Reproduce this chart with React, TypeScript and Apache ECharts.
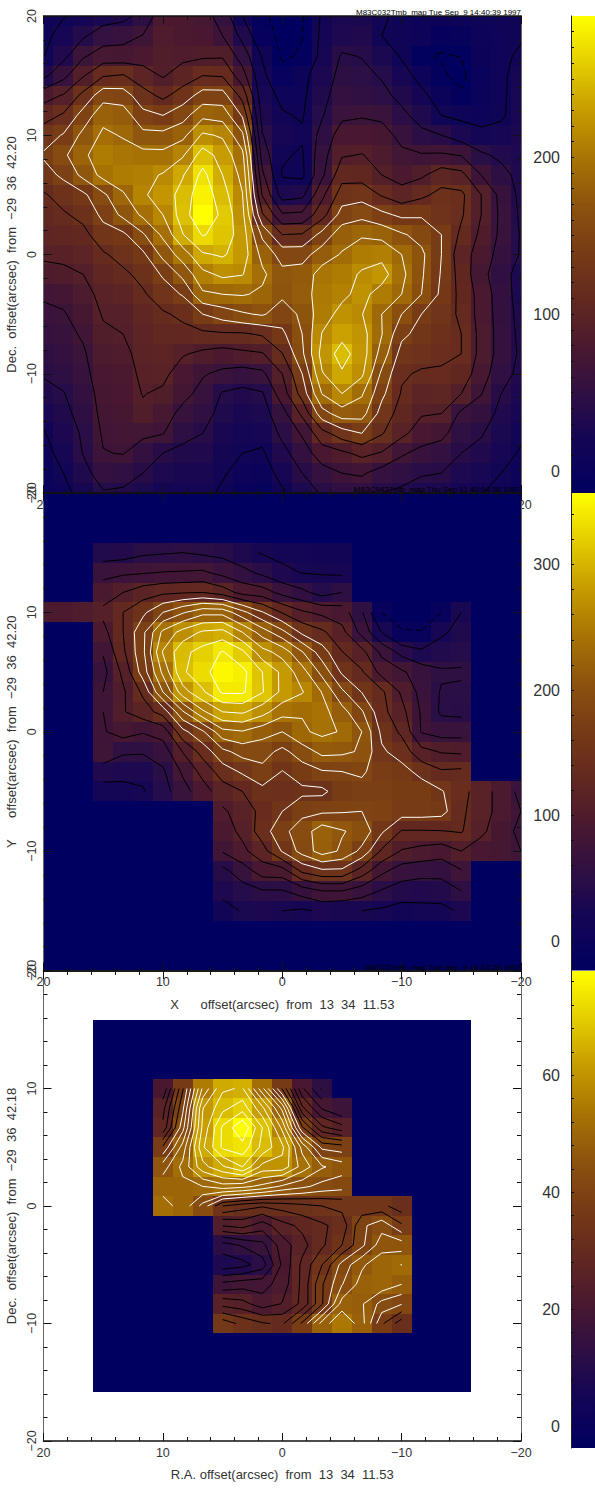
import React, { useEffect, useRef } from "react";
import * as echarts from "echarts";

const _ = null;
const nodeStep = 5 / 3;
const nodes25 = Array.from({ length: 25 }, (_v, i) => 20 - i * nodeStep);
const nodes19 = Array.from({ length: 19 }, (_v, i) => 15 - i * nodeStep);

// Each inner list is one column (left to right), values run from the top row down.
const co32Columns = [
  [13,10,14,34,80,105,128,143,130,112,108,102,94,82,68,60,55,48,42,33,22,13,8,5,2],
  [14,22,33,58,92,118,142,160,145,125,112,104,95,85,72,63,58,52,47,39,34,28,22,15,8],
  [20,37,62,88,122,150,172,185,172,135,122,108,100,90,82,75,68,62,58,52,48,43,41,32,24],
  [28,53,76,113,155,182,195,205,198,160,146,130,112,104,97,92,86,82,78,75,72,68,64,52,38],
  [33,57,75,117,152,178,188,200,205,187,171,135,124,110,100,93,90,84,80,78,75,72,66,50,36],
  [48,66,80,100,125,147,172,198,208,212,195,162,135,122,112,104,100,98,95,91,86,70,52,40,30],
  [80,84,87,88,109,140,172,197,217,225,215,195,172,143,128,112,106,100,96,86,76,66,40,30,20],
  [80,80,84,101,127,155,183,212,238,250,252,239,202,172,142,120,108,92,78,72,58,47,34,26,20],
  [75,78,86,115,150,184,219,252,272,282,290,267,237,208,186,140,110,85,67,58,50,40,33,26,20],
  [55,65,87,113,150,180,212,230,240,250,258,255,243,220,190,152,112,80,60,38,32,26,21,17,12],
  [15,33,53,75,106,137,170,197,208,216,222,228,228,216,192,162,112,85,55,33,26,20,15,8,0],
  [-8,-5,13,20,25,31,41,52,70,88,118,160,182,195,186,168,118,88,60,38,30,22,12,5,-2],
  [-14,-13,-13,-4,10,17,22,18,13,30,68,115,155,172,170,152,135,114,90,78,56,45,33,22,12],
  [-12,-10.5,-8,8,10,13,18,12,10,34,70,117,155,176,178,170,165,160,140,125,95,68,52,40,30],
  [18,20,22,28,33,38,48,56,60,84,105,148,178,200,203,205,216,224,213,191,155,106,78,55,42],
  [28,30,42,47,52,60,77,88,106,127,150,180,192,205,210,222,233,250,237,215,178,128,85,65,50],
  [28,33,39,46,50,63,78,91,105,130,158,187,205,218,222,216,224,227,220,193,175,140,96,68,50],
  [18,15,27,38,46,60,75,82,90,113,146,183,208,225,205,190,191,180,160,146,130,117,88,55,40],
  [10,12,13,23,34,45,58,70,80,100,135,168,190,196,190,165,146,130,118,113,105,96,68,50,35],
  [8,8,-8.6,8,20,32,45,67,86,110,137,157,170,168,165,140,131,124,112,100,92,78,58,42,30],
  [6,-5,-11,-8,5,15,40,68,103,122,126,140,140,138,135,128,122,118,113,103,90,72,52,40,28],
  [8,-3,-9.5,-14,-8,10,28,64,97,120,118,110,100,105,108,110,115,115,105,90,60,50,40,30,20],
  [10,8,6,2,5,8,20,44,65,90,90,85,80,73,80,80,82,82,76,66,54,42,33,25,16],
  [12,11,11,11,11,12,22,35,48,58,60,60,55,50,52,54,55,55,50,40,33,27,22,15,9],
  [12,13,18,24,25,26,28,30,32,34,36,38,38,30,30,32,34,36,33,28,22,18,13,8,4],
];

const co43Columns = [
  [_,_,_,_,_,_,95,_,_,_,_,_,_,_,_,_,_,_,_,_,_,_,_,_,_],
  [_,_,_,_,_,_,95,_,_,_,_,_,_,_,_,_,_,_,_,_,_,_,_,_,_],
  [_,_,_,_,_,_,100,_,_,_,_,_,_,_,_,_,_,_,_,_,_,_,_,_,_],
  [_,_,_,38,70,92,110,96,80,70,78,78,76,77,35,18,_,_,_,_,_,_,_,_,_],
  [_,_,_,40,74,104,130,130,125,110,100,102,88,56,32,20,_,_,_,_,_,_,_,_,_],
  [_,_,_,48,76,118,150,176,176,168,135,118,80,55,32,24,_,_,_,_,_,_,_,_,_],
  [_,_,_,50,79,125,182,240,262,240,208,140,88,65,48,42,_,_,_,_,_,_,_,_,_],
  [_,_,_,52,80,128,205,270,305,308,275,205,148,105,82,68,_,_,_,_,_,_,_,_,_],
  [_,_,_,48,82,130,226,290,322,330,308,255,178,140,112,93,_,_,_,_,_,_,_,_,_],
  [_,_,_,45,70,118,225,295,340,352,342,286,226,175,143,117,100,92,80,45,33,16,_,_,_],
  [_,_,_,33,60,95,190,260,318,345,342,290,232,192,160,130,115,110,98,65,42,28,_,_,_],
  [_,_,_,24,46,90,158,222,270,312,314,270,218,192,175,148,138,143,120,90,50,30,_,_,_],
  [_,_,_,18,33,70,128,190,250,280,280,243,208,175,155,145,156,175,158,92,50,26,_,_,_],
  [_,_,_,17,25,58,108,150,210,245,262,236,230,195,170,150,175,195,192,135,64,22,_,_,_],
  [_,_,_,14,24,42,98,135,168,200,233,243,240,215,180,150,178,222,220,150,78,30,_,_,_],
  [_,_,_,15,22,52,91,112,131,152,187,218,232,213,182,170,180,210,204,150,78,26,_,_,_],
  [_,_,_,_,_,_,55,70,112,133,155,185,208,205,185,175,182,200,175,118,65,26,_,_,_],
  [_,_,_,_,_,_,-10,25,72,95,135,138,150,160,172,175,178,160,126,84,50,22,_,_,_],
  [_,_,_,_,_,_,-20,-8,44,82,100,112,125,145,165,170,168,128,102,65,40,16,_,_,_],
  [_,_,_,_,_,_,-20,-9,32,65,70,75,76,112,148,170,168,128,95,62,35,20,_,_,_],
  [_,_,_,_,_,_,-10,22,38,55,50,48,68,102,133,158,165,129,90,60,40,18,_,_,_],
  [_,_,_,_,_,_,26,34,42,55,48,46,68,100,135,140,135,132,104,76,52,30,_,_,_],
  [_,_,_,_,_,_,_,_,_,_,_,_,_,_,_,115,115,110,90,_,_,_,_,_,_],
  [_,_,_,_,_,_,_,_,_,_,_,_,_,_,_,95,95,88,85,_,_,_,_,_,_],
  [_,_,_,_,_,_,_,_,_,_,_,_,_,_,_,70,78,72,78,_,_,_,_,_,_],
];

const co0Columns = [
  [_,_,_,_,_,_,_,_,_,_,_,_,_,_,_,_,_,_,_],
  [_,_,_,_,_,_,_,_,_,_,_,_,_,_,_,_,_,_,_],
  [_,_,_,_,_,_,_,_,_,_,_,_,_,_,_,_,_,_,_],
  [_,_,_,21,26,28,38,46,50,52,_,_,_,_,_,_,_,_,_],
  [_,_,_,37,40,43,49,52,50,50,_,_,_,_,_,_,_,_,_],
  [_,_,_,55,61,62,64,60,51,43,_,_,_,_,_,_,_,_,_],
  [_,_,_,64,67,72,72,64,53,34,24,12,8,18,26,36,_,_,_],
  [_,_,_,65,70,77.8,73.5,68,52,32,25,14,9,19,25,33,_,_,_],
  [_,_,_,52,62,68,67,60,50,31,22,16,12,19,22,31,_,_,_],
  [_,_,_,37,50,57,62,60,47,32,26,22,21,22,24,30,_,_,_],
  [_,_,_,21,28,38,50,53,45,33,28,26,28,28,28,38,_,_,_],
  [_,_,_,13,20,28,40,48,43,34,30,30,34,37,37,49,_,_,_],
  [_,_,_,_,17,25,39,46,42,35,32,34,42,44,49,54.45,_,_,_],
  [_,_,_,_,_,_,_,_,_,35,40,40,47,49,48,49,_,_,_],
  [_,_,_,_,_,_,_,_,_,35,43,46,50,50,43,38,_,_,_],
  [_,_,_,_,_,_,_,_,_,32,38,46,51.05,47.6,41,32,_,_,_],
  [_,_,_,_,_,_,_,_,_,_,_,_,_,_,_,_,_,_,_],
  [_,_,_,_,_,_,_,_,_,_,_,_,_,_,_,_,_,_,_],
  [_,_,_,_,_,_,_,_,_,_,_,_,_,_,_,_,_,_,_],
];

const co32Levels = [-10,15,40,65,90,115,140,165,190,215,240,265];
const co43Levels = [-10,26,52,78,104,130,156,182,208,234,260,286,312,338];
const co0Levels = [3.4,6.8,10.2,13.6,17,20.4,23.8,27.2,30.6,34,37.4,40.8,44.2,47.6,51,54.4,57.8,61.2,64.6,68,71.4,74.8];

const spatialTicks = [-20, -10, 0, 10, 20];
const co32BarLabels = [0, 100, 200];
const co43BarLabels = [0, 100, 200, 300];
const co0BarLabels = [0, 20, 40, 60];
const co32BarTicks = [-10,0,10,20,30,40,50,60,70,80,90,100,110,120,130,140,150,160,170,180,190,200,210,220,230,240,250,260,270,280];
const co43BarTicks = [-20,0,20,40,60,80,100,120,140,160,180,200,220,240,260,280,300,320,340];
const co0BarTicks = [0,4,8,12,16,20,24,28,32,36,40,44,48,52,56,60,64,68,72,76];

const colorStops: [number, number[]][] = [
  [0, [0, 0, 96]],
  [0.12, [22, 6, 84]],
  [0.2, [45, 15, 68]],
  [0.3, [72, 24, 48]],
  [0.4, [98, 40, 32]],
  [0.5, [118, 58, 22]],
  [0.6, [140, 82, 14]],
  [0.7, [168, 115, 4]],
  [0.8, [198, 155, 0]],
  [0.9, [228, 205, 0]],
  [1, [255, 255, 0]],
];

function colorAt(t: number) {
  const v = Math.max(0, Math.min(1, t));
  for (let i = 1; i < colorStops.length; i++) {
    if (v <= colorStops[i][0]) {
      const [t0, c0] = colorStops[i - 1];
      const [t1, c1] = colorStops[i];
      const f = (v - t0) / (t1 - t0);
      return `rgb(${c0.map((c, k) => Math.round(c + (c1[k] - c) * f)).join(",")})`;
    }
  }
  return "rgb(255,255,0)";
}

// Marching squares over the grid nodes; a cell with a blank corner draws nothing.
function contour(cols: (number | null)[][], nodes: number[], level: number) {
  const pts: (number | null)[][] = [];
  const cross = (x0: number, y0: number, v0: number, x1: number, y1: number, v1: number) => {
    const f = (level - v0) / (v1 - v0);
    return [x0 + (x1 - x0) * f, y0 + (y1 - y0) * f];
  };
  for (let i = 0; i < nodes.length - 1; i++) {
    for (let j = 0; j < nodes.length - 1; j++) {
      const a = cols[i][j], b = cols[i + 1][j], c = cols[i + 1][j + 1], d = cols[i][j + 1];
      if (a === null || b === null || c === null || d === null) continue;
      const xl = nodes[i], xr = nodes[i + 1], yt = nodes[j], yb = nodes[j + 1];
      const top = a < level !== b < level ? cross(xl, yt, a, xr, yt, b) : null;
      const right = b < level !== c < level ? cross(xr, yt, b, xr, yb, c) : null;
      const bottom = d < level !== c < level ? cross(xl, yb, d, xr, yb, c) : null;
      const left = a < level !== d < level ? cross(xl, yt, a, xl, yb, d) : null;
      const found = [top, right, bottom, left].filter(Boolean) as number[][];
      const push = (p: number[], q: number[]) => pts.push(p, q, [null, null]);
      if (found.length === 2) push(found[0], found[1]);
      else if (found.length === 4) {
        const centre = (a + b + c + d) / 4;
        if (centre < level === a < level) {
          push(top!, right!);
          push(bottom!, left!);
        } else {
          push(top!, left!);
          push(bottom!, right!);
        }
      }
    }
  }
  return pts;
}

const fontFamily = "'Liberation Sans', Arial, sans-serif";
const minus = (v: number) => String(v).replace("-", "\u2212");
const axisInk = "#333";

type Panel = {
  cols: (number | null)[][];
  nodes: number[];
  levels: number[];
  whiteFrom: number;
  top: number;
  height: number;
  barMin: number;
  barMax: number;
  barBottom: number;
  barLabels: number[];
  barTicks: number[];
  yName: string;
  xName: string;
  stamp: string;
};

const panels: Panel[] = [
  {
    cols: co32Columns, nodes: nodes25, levels: co32Levels, whiteFrom: 140,
    top: 16, height: 477, barMin: -14, barMax: 290, barBottom: 493,
    barLabels: co32BarLabels, barTicks: co32BarTicks,
    yName: "Dec.  offset(arcsec)  from  \u221229  36  42.20", xName: "",
    stamp: "M83C032Tmb_map Tue Sep  9 14:40:39 1997",
  },
  {
    cols: co43Columns, nodes: nodes25, levels: co43Levels, whiteFrom: 156,
    top: 493, height: 477.5, barMin: -23.5, barMax: 357, barBottom: 970.5,
    barLabels: co43BarLabels, barTicks: co43BarTicks,
    yName: "Y      offset(arcsec)  from  \u221229  36  42.20",
    xName: "X      offset(arcsec)  from  13  34  11.53",
    stamp: "M83C043Tmb_map Thu Sep 11 40:04:38 1997",
  },
  {
    cols: co0Columns, nodes: nodes19, levels: co0Levels, whiteFrom: 40,
    top: 971, height: 470, barMin: -3.7, barMax: 77.8, barBottom: 1448,
    barLabels: co0BarLabels, barTicks: co0BarTicks,
    yName: "Dec.  offset(arcsec)  from  \u221229  36  42.18",
    xName: "R.A. offset(arcsec)  from  13  34  11.53",
    stamp: "M83C0Tmb_map Tue Sep  9 14:43:28 1997",
  },
];

function buildOption() {
  const grid: any[] = [];
  const xAxis: any[] = [];
  const yAxis: any[] = [];
  const series: any[] = [];
  const graphic: any[] = [];
  const left = 43.5;
  const width = 477.5;
  const half = nodeStep / 2;

  const base = { type: "value", min: -20, max: 20, interval: 10, splitLine: { show: false } };
  const spatialTicked = (extra: any, lineColor = "#666", lineWidth = 1) => ({
    ...base,
    axisLine: { show: true, onZero: false, lineStyle: { color: lineColor, width: lineWidth } },
    axisTick: { show: true, inside: true, length: 8, lineStyle: { color: "#111" } },
    minorTick: { show: true, splitNumber: 5, length: 4, lineStyle: { color: "#111" } },
    axisLabel: { show: false },
    z: 6,
    ...extra,
  });
  const box = (top: number, height: number, l = left, w = width) => ({
    left: l, width: w, top, height, containLabel: false, outerBoundsMode: "none",
  });

  panels.forEach((p, k) => {
    const low = p.barMin;
    const range = p.barMax - p.barMin;
    const gA = grid.length;
    grid.push(box(p.top, p.height));
    const gB = grid.length;
    grid.push(box(p.top, p.height));
    const gC = grid.length;
    grid.push(box(p.top, p.barBottom - p.top, 571, 24));

    // Grid A: the x labels, lying below the cells of every panel.
    xAxis.push({
      ...base, gridIndex: gA, inverse: true, position: "bottom", z: 0,
      axisLine: { show: false, onZero: false }, axisTick: { show: false },
      axisLabel: {
        show: true, margin: 5, fontSize: 12.5, color: axisInk, fontFamily,
        showMinLabel: true, showMaxLabel: true, hideOverlap: false,
        customValues: spatialTicks, formatter: (v: number) => minus(v),
      },
      name: p.xName, nameLocation: "middle", nameGap: 27,
      nameTextStyle: { fontSize: 13, color: axisInk, fontFamily },
    });
    yAxis.push({ ...base, gridIndex: gA, show: false });

    // Grid B: ticks on all four sides and the y labels.
    const xB = xAxis.length;
    xAxis.push(spatialTicked({ gridIndex: gB, inverse: true, position: "bottom" }, "#111", 1.5));
    xAxis.push(spatialTicked({ gridIndex: gB, inverse: true, position: "top" }, "#111", 1.5));
    const yB = yAxis.length;
    yAxis.push(spatialTicked({
      gridIndex: gB, position: "left",
      axisLabel: {
        show: true, rotate: 90, margin: 5, fontSize: 12.5, color: axisInk, fontFamily,
        customValues: spatialTicks, formatter: (v: number) => minus(v), hideOverlap: false,
        showMinLabel: true, showMaxLabel: true,
      },
      name: p.yName, nameLocation: "middle", nameGap: 17, nameRotate: 90,
      nameTextStyle: { fontSize: 13, color: axisInk, fontFamily },
    }));
    yAxis.push(spatialTicked({ gridIndex: gB, position: "right" }));

    // Grid C: the colour bar.
    const xC = xAxis.length;
    xAxis.push({ type: "value", gridIndex: gC, min: 0, max: 1, show: false });
    const yC = yAxis.length;
    yAxis.push({
      type: "value", gridIndex: gC, min: p.barMin, max: p.barMax, position: "left", z: 6,
      splitLine: { show: false },
      axisLine: { show: true, onZero: false, lineStyle: { color: "#222" } },
      axisTick: { show: true, inside: true, length: 3, customValues: p.barTicks, lineStyle: { color: "#111" } },
      axisLabel: {
        show: true, margin: 11, fontSize: 16, color: axisInk, fontFamily,
        customValues: p.barLabels, formatter: (v: number) => minus(v),
      },
    });

    const cells: number[][] = [];
    p.nodes.forEach((x, i) =>
      p.nodes.forEach((y, j) => {
        const v = p.cols[i][j];
        cells.push([x, y, v === null ? p.barMin : v]);
      })
    );
    series.push({
      type: "custom", name: `cells${k}`, coordinateSystem: "cartesian2d",
      xAxisIndex: xB, yAxisIndex: yB, clip: true, silent: true, z: 2,
      data: cells,
      renderItem: (_params: any, api: any) => {
        const x = api.value(0), y = api.value(1), v = api.value(2);
        const a = api.coord([x + half, y + half]);
        const b = api.coord([x - half, y - half]);
        const x0 = Math.round(a[0]), y0 = Math.round(a[1]);
        const x1 = Math.round(b[0]), y1 = Math.round(b[1]);
        return {
          type: "rect",
          shape: { x: x0, y: y0, width: x1 - x0, height: y1 - y0 },
          style: { fill: colorAt((v - low) / range) },
        };
      },
    });

    p.levels.forEach((level) => {
      series.push({
        type: "line", name: `level${k}_${level}`, xAxisIndex: xB, yAxisIndex: yB,
        coordinateSystem: "cartesian2d", showSymbol: false, symbol: "none", silent: true,
        connectNulls: false, clip: false, z: 3, animation: false,
        lineStyle: {
          width: 1,
          color: level >= p.whiteFrom ? "#ffffff" : "#000000",
          type: level < 0 ? [6, 4] : "solid",
        },
        data: contour(p.cols, p.nodes, level),
      });
    });

    series.push({
      type: "custom", name: `bar${k}`, coordinateSystem: "cartesian2d",
      xAxisIndex: xC, yAxisIndex: yC, silent: true, z: 2,
      data: [[p.barMin, p.barMax]],
      renderItem: (_params: any, api: any) => {
        const a = api.coord([0, api.value(1)]);
        const b = api.coord([1, api.value(0)]);
        return {
          type: "rect",
          shape: { x: a[0], y: a[1], width: b[0] - a[0], height: b[1] - a[1] },
          style: {
            fill: new echarts.graphic.LinearGradient(0, 1, 0, 0,
              colorStops.map(([offset, c]) => ({ offset, color: `rgb(${c.join(",")})` }))),
          },
        };
      },
    });

    graphic.push({
      type: "text", right: 595 - 521, top: p.top - 8, z: 20,
      style: { text: p.stamp, fontSize: 8, fontFamily, fill: "#000", textAlign: "right" },
    });
  });

  return { animation: false, backgroundColor: "#fff", grid, xAxis, yAxis, series, graphic };
}

export default function App() {
  const ref = useRef<HTMLDivElement>(null);
  useEffect(() => {
    const chart = echarts.init(ref.current!, undefined, { renderer: "svg" });
    chart.setOption(buildOption() as any);
    return () => chart.dispose();
  }, []);
  return <div ref={ref} style={{ position: "absolute", left: 0, top: 0, width: 595, height: 1490 }} />;
}
